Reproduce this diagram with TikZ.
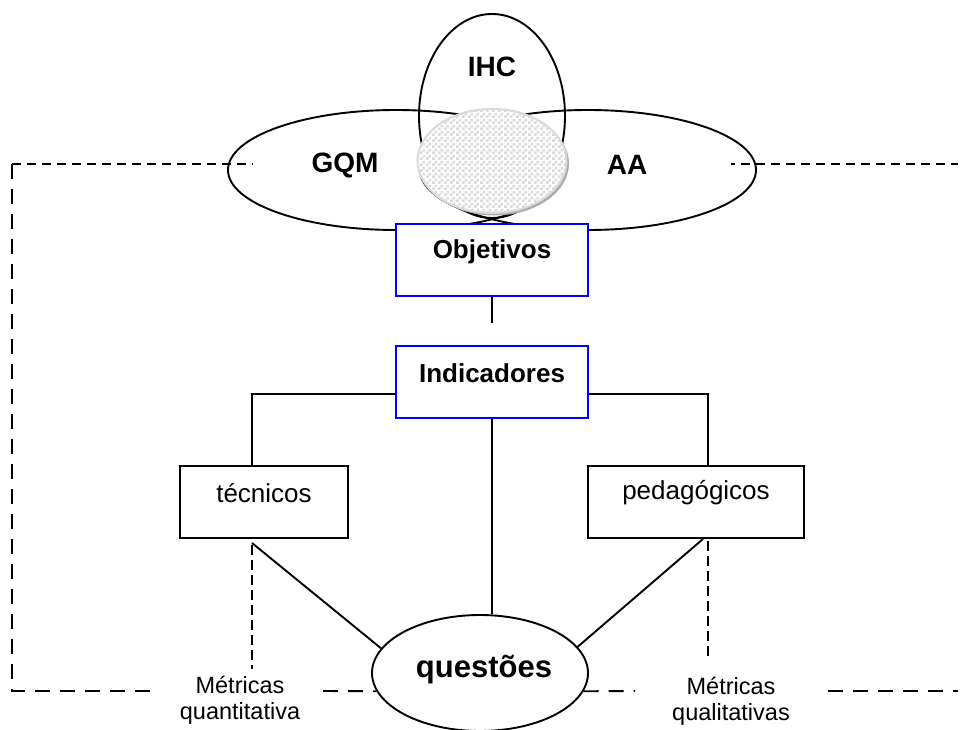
\documentclass[tikz,border=0pt]{standalone}
\usepackage{fontspec}
\setmainfont{Liberation Sans}
\usetikzlibrary{shapes.geometric,patterns}

% 3pt checkerboard fill
\pgfdeclarepatternformonly{checkthree}{\pgfpointorigin}{\pgfpoint{6pt}{6pt}}{\pgfpoint{6pt}{6pt}}{%
  \pgfpathrectangle{\pgfpointorigin}{\pgfpoint{3pt}{3pt}}%
  \pgfpathrectangle{\pgfpoint{3pt}{3pt}}{\pgfpoint{3pt}{3pt}}%
  \pgfusepath{fill}}

\tikzset{
  outline/.style={draw=black, line width=1.9pt},
  ring/.style={ellipse, outline, inner sep=0pt},
  bluebox/.style={rectangle, draw=blue, line width=2pt, fill=white, inner sep=0pt,
                  minimum width=192pt, minimum height=72pt},
  plainbox/.style={rectangle, outline, fill=white, inner sep=0pt, minimum height=72pt},
  biglbl/.style={inner sep=0pt, font=\fontsize{28}{30}\selectfont\bfseries},
  boxlbl/.style={inner sep=0pt, font=\fontsize{26}{28}\selectfont\bfseries},
  regl/.style={inner sep=0pt, font=\fontsize{26}{28}\selectfont},
  metl/.style={inner sep=0pt, align=center, font=\fontsize{23.5}{26}\selectfont},
  link/.style={line width=1.9pt},
  shortdash/.style={line width=1.9pt, dash pattern=on 9pt off 6pt},
  longdash/.style={line width=1.9pt, dash pattern=on 15pt off 10pt},
  tickdash/.style={line width=1.9pt, dash pattern=on 10pt off 5pt}
}

\begin{document}
\begin{tikzpicture}[x=1pt,y=-1pt]
\useasboundingbox (0,0) rectangle (962,730);

% three overlapping areas
\node[ring, minimum width=336pt, minimum height=120pt] (gqm) at (396,170) {};
\node[ring, minimum width=336pt, minimum height=120pt] (aa) at (588,170) {};
\node[ring, minimum width=146pt, minimum height=204pt] (ihc) at (492,116) {};

% shaded intersection with drop shadow
\node[ellipse, fill=gray!65, inner sep=0pt, minimum width=149pt, minimum height=104pt] (coreshadow) at (494.5,163.5) {};
\node[ellipse, draw=gray!30, line width=2pt, inner sep=0pt, minimum width=149pt, minimum height=104pt,
      preaction={fill=white}, pattern=checkthree, pattern color=gray!30] (core) at (492,161) {};

\node[biglbl] (ihctxt) at (492,67) {IHC};
\node[biglbl] (gqmtxt) at (345,165) {GQM};
\node[biglbl] (aatxt) at (627,165) {AA};

% boxes
\node[bluebox] (obj) at (492,260) {};
\node[boxlbl] (objtxt) at (492,252) {Objetivos};
\node[bluebox] (ind) at (492,382) {};
\node[boxlbl] (indtxt) at (492,373) {Indicadores};
\node[plainbox, minimum width=168pt] (tec) at (264,502) {};
\node[regl] (tectxt) at (264,493) {técnicos};
\node[plainbox, minimum width=216pt] (ped) at (696,502) {};
\node[regl] (pedtxt) at (696,493) {pedagógicos};
\node[ring, fill=white, minimum width=216pt, minimum height=116pt] (q) at (480,673) {};
\node[inner sep=0pt, font=\fontsize{31}{33}\selectfont\bfseries] (qtxt) at (484,670) {questões};

% metric labels
\node[metl] (mquant) at (240,700) {Métricas\\quantitativa};
\node[metl] (mqual) at (731,701) {Métricas\\qualitativas};

% helper points
\coordinate (objstub) at (492,323);
\coordinate (tecjoint) at (252,394);
\coordinate (pedjoint) at (708,394);
\coordinate (tecfoot) at (252,543);
\coordinate (pedfoot) at (703,539);
\coordinate (tecmet) at (252,669);
\coordinate (pedmet) at (708,657);
\coordinate (cornerTL) at (12,164);
\coordinate (cornerBL) at (12,691);
\coordinate (topL) at (253,164);
\coordinate (topR) at (731,164);
\coordinate (edgeTR) at (958,164);
\coordinate (botA) at (157,691);
\coordinate (botB) at (323,691);
\coordinate (botC) at (635,691);
\coordinate (botD) at (828,691);
\coordinate (edgeBR) at (958,691);

% solid connectors
\draw[link] (obj.south) -- (objstub);
\draw[link] (ind.west |- tecjoint) -- (tecjoint) -- (tecjoint |- tec.north);
\draw[link] (ind.east |- pedjoint) -- (pedjoint) -- (pedjoint |- ped.north);
\draw[link] (ind.south) -- (ind.south |- q.north);
\draw[link] (tecfoot) -- (q.166);
\draw[link] (pedfoot) -- (q.15);

% dashed metric ticks
\draw[tickdash] (tecfoot) ++(0,2) -- (tecmet);
\draw[tickdash] (pedjoint |- ped.south) ++(0,2) -- (pedmet);

% dashed frame
\draw[shortdash] (cornerTL) -- (topL);
\draw[longdash] (cornerTL) -- (cornerBL) -- (botA);
\draw[longdash] (botB) -- (q.190);
\draw[longdash] (q.350) -- (botC);
\draw[longdash] (botD) -- (edgeBR);
\draw[shortdash, dash phase=5pt] (topR) -- (edgeTR);
\end{tikzpicture}
\end{document}
